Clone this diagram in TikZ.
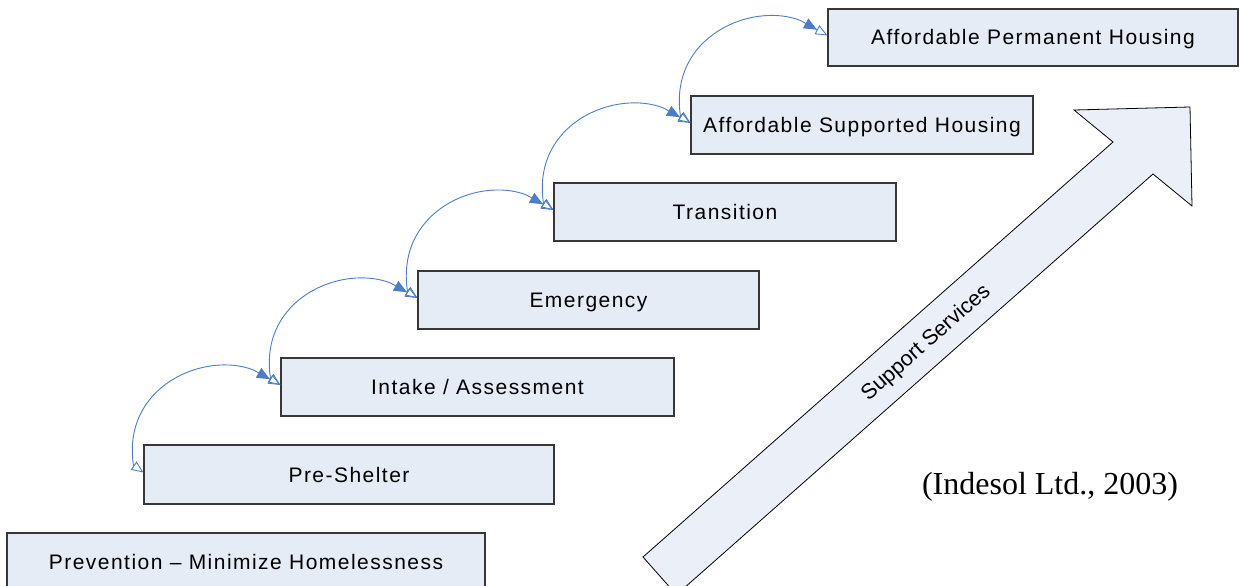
\documentclass[tikz,border=0pt]{standalone}
\usepackage{fontspec}
\newfontfamily\labelfont[LetterSpace=7]{Liberation Sans}
\newfontfamily\plainsans{Liberation Sans}
\newfontfamily\citefont{Liberation Serif}
\usetikzlibrary{arrows.meta,calc}
\definecolor{boxfill}{RGB}{230,236,246}
\definecolor{arrowfill}{RGB}{234,239,248}
\definecolor{linkblue}{RGB}{74,126,200}
\definecolor{boxline}{RGB}{55,55,55}
\begin{document}
\begin{tikzpicture}[x=1pt,y=-1pt,
  stagebox/.style={draw=boxline, line width=1.1pt, fill=boxfill, rectangle, inner sep=0pt,
    font=\labelfont\fontsize{21}{25}\selectfont, text height=15pt, text depth=0pt},
  link/.style={draw=linkblue, line width=0.9pt,
    {Triangle[open,length=12pt,width=10pt]}-{Triangle[length=13pt,width=11pt] Triangle[open,length=12pt,width=10pt]}},
  bigarrow/.style={draw=black, line width=0.8pt, fill=arrowfill}]
\useasboundingbox (0,0) rectangle (1239,586);
\begin{scope}
\clip (0,0) rectangle (1239,586);

% rising block arrow
\draw[bigarrow] (643,557) -- (1113,142) -- (1074,110) -- (1190,107)
  -- (1192,206) -- (1153,174) -- (676.4,594.8) -- cycle;
\node[font=\plainsans\fontsize{21.5}{25}\selectfont, rotate=41.4, inner sep=0pt,
  text height=15pt, text depth=0pt] (support) at (925,341.7) {Support Services};

% the stages
\node[stagebox, minimum width=478pt, minimum height=58pt] (prev)   at (246,562)    {Prevention – Minimize Homelessness};
\node[stagebox, minimum width=410pt, minimum height=59pt] (pre)    at (349,474.5)  {Pre-Shelter};
\node[stagebox, minimum width=393pt, minimum height=58pt] (intake) at (477.5,387)  {Intake / Assessment};
\node[stagebox, minimum width=341pt, minimum height=58pt] (emerg)  at (588.5,300)  {Emergency};
\node[stagebox, minimum width=342pt, minimum height=58pt] (trans)  at (725,212)    {Transition};
\node[stagebox, minimum width=342pt, minimum height=58pt] (ash)    at (862,125)    {Affordable Supported Housing};
\node[stagebox, minimum width=410pt, minimum height=57pt] (aph)    at (1033,37.5)  {Affordable Permanent Housing};

% looping links between consecutive stages
\foreach \a/\b in {pre/intake, intake/emerg, emerg/trans, trans/ash, ash/aph}{
  \coordinate (s-\a) at ([yshift=2pt]\a.west);
  \coordinate (e-\b) at ([yshift=2pt]\b.west);
  \draw[link] (s-\a) -- ++(-10,-7)
    .. controls +(-12,-80) and ($(e-\b)+(-75,-34)$) .. ($(e-\b)+(-27,-15)$) -- (e-\b);
}

\node[font=\citefont\fontsize{32}{36}\selectfont, anchor=base, inner sep=0pt] (cite) at (1050,494) {(Indesol Ltd., 2003)};
\end{scope}
\end{tikzpicture}
\end{document}
